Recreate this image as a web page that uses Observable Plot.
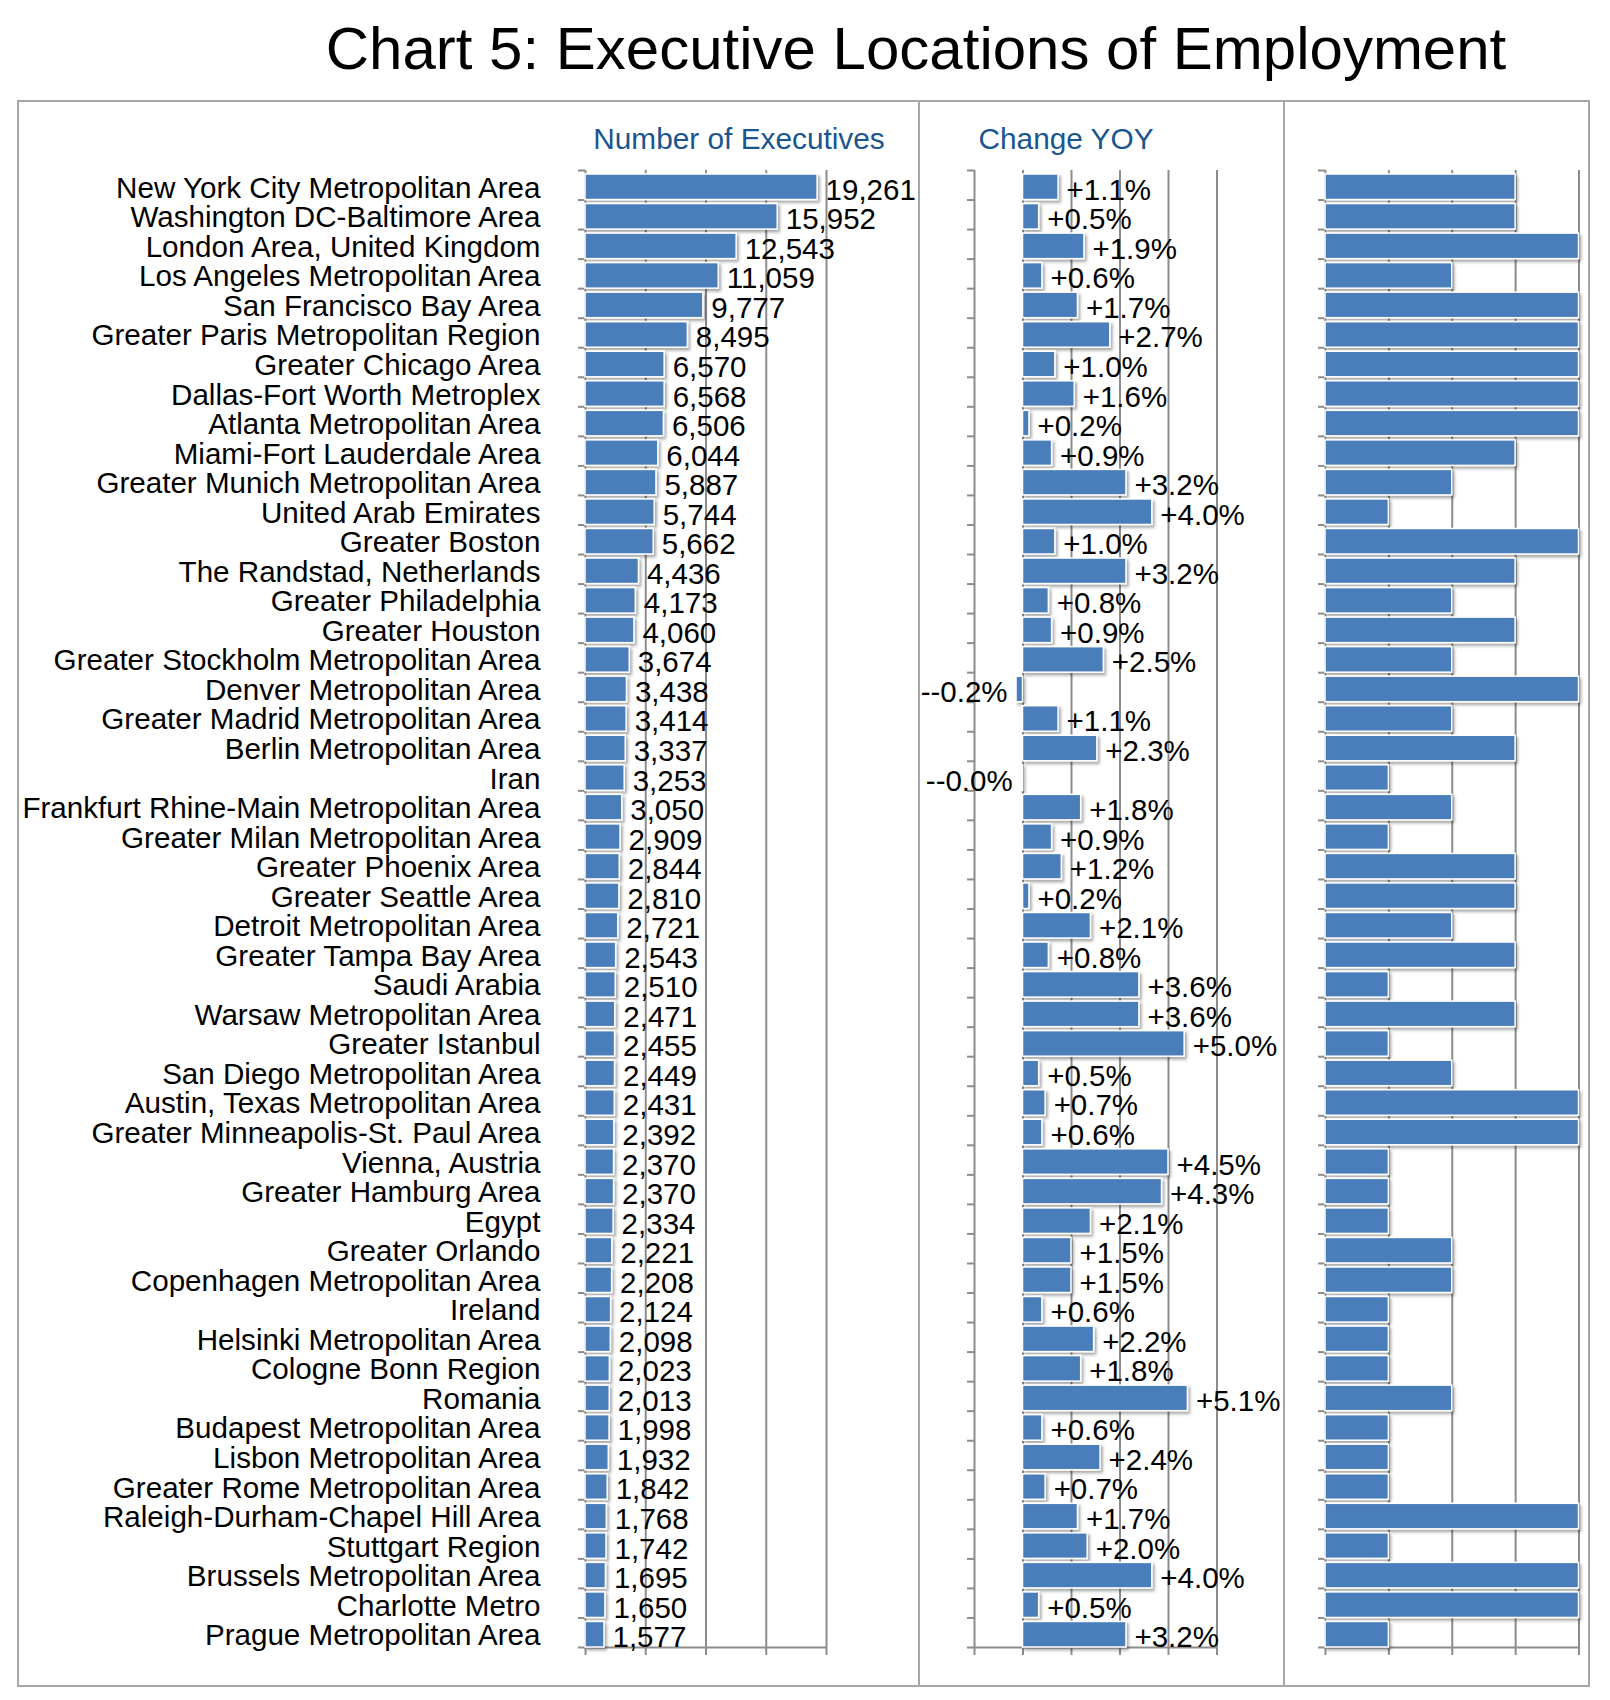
<!DOCTYPE html>
<html>
<head>
<meta charset="utf-8">
<script src="https://cdn.jsdelivr.net/npm/d3@7"></script>
<script src="https://cdn.jsdelivr.net/npm/@observablehq/plot@0.6"></script>
<style>
  body { margin: 0; background: #fff; font-family: "Liberation Sans", Arial, Helvetica, sans-serif; }
  #page { position: relative; width: 1610px; height: 1700px; overflow: hidden; background: #fff; }
  .abs { position: absolute; }
  .title { font-size: 60px; line-height: 60px; color: #000; text-align: center; white-space: nowrap; }
  .head { font-size: 29.8px; line-height: 29.8px; color: #1a5590; text-align: center; white-space: nowrap; }
  .box { border: 2px solid #a6a6a6; box-sizing: border-box; }
  .divider { background: #a6a6a6; }
</style>
</head>
<body>
<div id="page">
  <div class="abs title" style="left:216px; top:19px; width:1400px;">Chart 5: Executive Locations of Employment</div>
  <div class="abs head" style="left:539px; top:124px; width:400px;">Number of Executives</div>
  <div class="abs head" style="left:866px; top:124px; width:400px;">Change YOY</div>
  <div id="p1" class="abs" style="left:20px; top:150px;"></div>
  <div id="p2" class="abs" style="left:921px; top:150px;"></div>
  <div id="p3" class="abs" style="left:1287px; top:150px;"></div>
  <div class="abs box" style="left:17px; top:100px; width:1573px; height:1587px;"></div>
  <div class="abs divider" style="left:918px; top:100px; width:2px; height:1587px;"></div>
  <div class="abs divider" style="left:1283px; top:100px; width:2px; height:1587px;"></div>
</div>
<script>
// ---------- data ----------
const locations = [
  "New York City Metropolitan Area", "Washington DC-Baltimore Area", "London Area, United Kingdom",
  "Los Angeles Metropolitan Area", "San Francisco Bay Area", "Greater Paris Metropolitan Region",
  "Greater Chicago Area", "Dallas-Fort Worth Metroplex", "Atlanta Metropolitan Area",
  "Miami-Fort Lauderdale Area", "Greater Munich Metropolitan Area", "United Arab Emirates",
  "Greater Boston", "The Randstad, Netherlands", "Greater Philadelphia", "Greater Houston",
  "Greater Stockholm Metropolitan Area", "Denver Metropolitan Area", "Greater Madrid Metropolitan Area",
  "Berlin Metropolitan Area", "Iran", "Frankfurt Rhine-Main Metropolitan Area",
  "Greater Milan Metropolitan Area", "Greater Phoenix Area", "Greater Seattle Area",
  "Detroit Metropolitan Area", "Greater Tampa Bay Area", "Saudi Arabia", "Warsaw Metropolitan Area",
  "Greater Istanbul", "San Diego Metropolitan Area", "Austin, Texas Metropolitan Area",
  "Greater Minneapolis-St. Paul Area", "Vienna, Austria", "Greater Hamburg Area", "Egypt",
  "Greater Orlando", "Copenhagen Metropolitan Area", "Ireland", "Helsinki Metropolitan Area",
  "Cologne Bonn Region", "Romania", "Budapest Metropolitan Area", "Lisbon Metropolitan Area",
  "Greater Rome Metropolitan Area", "Raleigh-Durham-Chapel Hill Area", "Stuttgart Region",
  "Brussels Metropolitan Area", "Charlotte Metro", "Prague Metropolitan Area"
];
const executives = [
  19261, 15952, 12543, 11059, 9777, 8495, 6570, 6568, 6506, 6044,
  5887, 5744, 5662, 4436, 4173, 4060, 3674, 3438, 3414, 3337,
  3253, 3050, 2909, 2844, 2810, 2721, 2543, 2510, 2471, 2455,
  2449, 2431, 2392, 2370, 2370, 2334, 2221, 2208, 2124, 2098,
  2023, 2013, 1998, 1932, 1842, 1768, 1742, 1695, 1650, 1577
];
const changeYoy = [
  1.1, 0.5, 1.9, 0.6, 1.7, 2.7, 1.0, 1.6, 0.2, 0.9,
  3.2, 4.0, 1.0, 3.2, 0.8, 0.9, 2.5, -0.2, 1.1, 2.3,
  -0.04, 1.8, 0.9, 1.2, 0.2, 2.1, 0.8, 3.6, 3.6, 5.0,
  0.5, 0.7, 0.6, 4.5, 4.3, 2.1, 1.5, 1.5, 0.6, 2.2,
  1.8, 5.1, 0.6, 2.4, 0.7, 1.7, 2.0, 4.0, 0.5, 3.2
];
const thirdPanel = [
  3, 3, 4, 2, 4, 4, 4, 4, 4, 3,
  2, 1, 4, 3, 2, 3, 2, 4, 2, 3,
  1, 2, 1, 3, 3, 2, 3, 1, 3, 1,
  2, 4, 4, 1, 1, 1, 2, 2, 1, 1,
  1, 2, 1, 1, 1, 4, 1, 4, 4, 1
];
const execDomain = [0, 20000];
const execGrid = [5000, 10000, 15000, 20000];
const changeDomain = [-1.5, 6];
const changeGrid = [0, 1.5, 3, 4.5, 6];
const thirdDomain = [0, 4];
const thirdGrid = [1, 2, 3, 4];

// ---------- styling ----------
const H = 1520, MT = 20, MB = 23;
const BLUE = "#4a7ebb";
const GREY = "#8c8c8c";
const FONT = "'Liberation Sans', Arial, Helvetica, sans-serif";

function panel({el, values, domain, grid, width, marginLeft, marginRight, names, valueLabel, id}) {
  const rows = locations.map((name, i) => ({name, value: values[i]}));
  const plotW = width - marginLeft - marginRight;
  const bw = (H - MT - MB) / locations.length;
  const tickLen = 7 * (domain[1] - domain[0]) / plotW;
  const last = locations[locations.length - 1];
  const marks = [
    Plot.ruleX(grid, {x: d => d, stroke: GREY, strokeWidth: 2}),
    Plot.ruleX([domain[0]], {x: d => d, stroke: GREY, strokeWidth: 2}),
    Plot.ruleY(locations, {y: d => d, x1: () => domain[0] - tickLen, x2: () => domain[0], dy: -bw / 2, stroke: GREY, strokeWidth: 2}),
    Plot.ruleY([last], {y: d => d, x1: () => domain[0] - tickLen, x2: () => domain[1], dy: bw / 2, stroke: GREY, strokeWidth: 2}),
    Plot.tickX([domain[0], ...grid], {x: d => d, y: () => last, dy: bw, insetBottom: bw - 8, stroke: GREY, strokeWidth: 2}),
    Plot.barX(rows, {y: "name", x1: () => 0, x2: "value", fill: BLUE, stroke: "white", strokeWidth: 1.5, insetTop: 4, insetBottom: 0})
  ];
  if (names) {
    marks.push(Plot.text(locations, {y: d => d, x: () => domain[0], text: d => d, textAnchor: "end", dx: -45, dy: 3, fontSize: 29.6, fill: "#000"}));
  }
  if (valueLabel) {
    marks.push(Plot.text(rows, {filter: d => d.value >= 0, y: "name", x: "value", text: d => valueLabel(d.value), textAnchor: "start", dx: 8, dy: 5, fontSize: 29.5, fill: "#000"}));
    marks.push(Plot.text(rows, {filter: d => d.value < 0, y: "name", x: "value", text: d => valueLabel(d.value), textAnchor: "end", dx: -9, dy: 5, fontSize: 29.5, fill: "#000"}));
  }
  const chart = Plot.plot({
    width, height: H,
    marginTop: MT, marginBottom: MB, marginLeft, marginRight,
    x: {domain, axis: null},
    y: {domain: locations, axis: null, padding: 0, round: false},
    style: {fontFamily: FONT, background: "transparent", overflow: "visible", color: "#000"},
    marks
  });
  const svg = d3.select(chart);
  const defs = svg.insert("defs", ":first-child");
  const f = defs.append("filter").attr("id", id)
    .attr("x", "-10%").attr("y", "-30%").attr("width", "130%").attr("height", "180%");
  f.append("feDropShadow").attr("dx", 2).attr("dy", 2.5).attr("stdDeviation", 1.8)
    .attr("flood-color", "#000").attr("flood-opacity", 0.35);
  svg.selectAll('g[aria-label="bar"]').attr("filter", `url(#${id})`);
  document.getElementById(el).appendChild(chart);
}

const fmtNum = d3.format(",");
const fmtPct = v => (v < 0 ? "-" : "+") + v.toFixed(1) + "%";

panel({el: "p1", id: "sh1", values: executives, domain: execDomain, grid: execGrid,
  width: 898, marginLeft: 565, marginRight: 92, names: true, valueLabel: fmtNum});
panel({el: "p2", id: "sh2", values: changeYoy, domain: changeDomain, grid: changeGrid,
  width: 362, marginLeft: 53, marginRight: 66.5, names: false, valueLabel: fmtPct});
panel({el: "p3", id: "sh3", values: thirdPanel, domain: thirdDomain, grid: thirdGrid,
  width: 300, marginLeft: 38, marginRight: 8.5, names: false, valueLabel: null});
</script>
</body>
</html>
